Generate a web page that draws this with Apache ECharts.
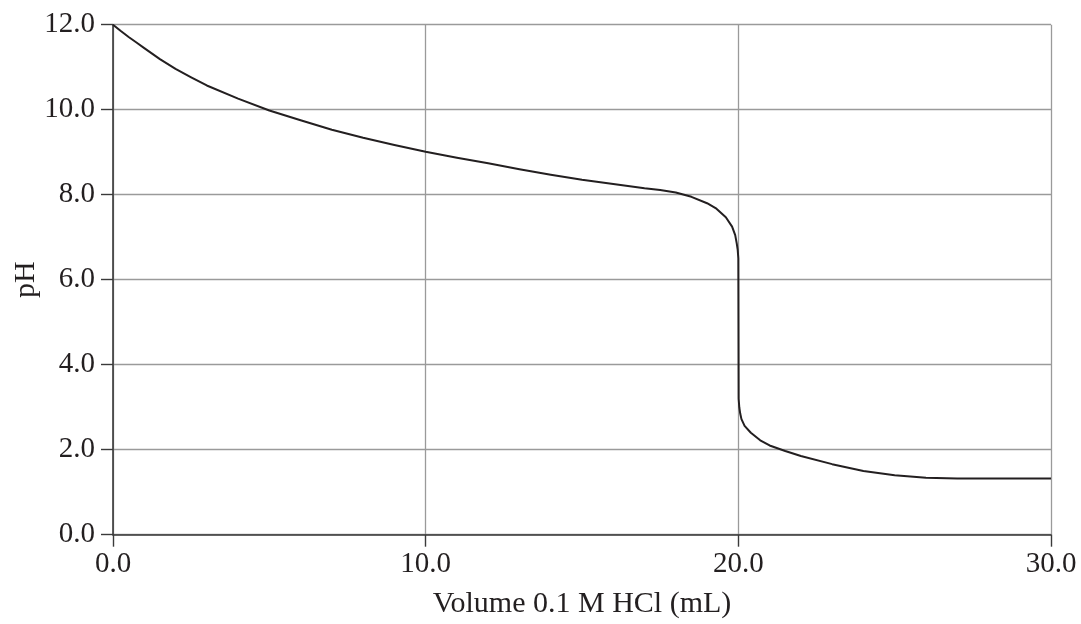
<!DOCTYPE html>
<html>
<head>
<meta charset="utf-8">
<script src="https://cdn.jsdelivr.net/npm/echarts@6/dist/echarts.min.js"></script>
<style>
html,body{margin:0;padding:0;background:#fff;}
#chart{width:1081px;height:624px;}
</style>
</head>
<body>
<div id="chart"></div>
<script>
const volumes = [0, 0.25, 0.5, 0.75, 1, 1.5, 2, 2.5, 3, 4, 5, 6, 7, 8, 9, 10, 11, 12, 13, 14, 15, 16, 17, 17.5, 18, 18.5, 19, 19.3, 19.6, 19.8, 19.9, 19.95, 19.98, 20.0, 20.01, 20.03, 20.06, 20.1, 20.2, 20.4, 20.7, 21, 21.5, 22, 23, 24, 25, 26, 27, 28, 29, 30];
const phValues = [12.0, 11.85, 11.71, 11.58, 11.45, 11.19, 10.96, 10.76, 10.57, 10.26, 9.98, 9.75, 9.53, 9.34, 9.17, 9.01, 8.87, 8.74, 8.60, 8.47, 8.35, 8.25, 8.15, 8.11, 8.05, 7.95, 7.80, 7.67, 7.47, 7.25, 7.05, 6.85, 6.7, 6.5, 3.2, 3.0, 2.85, 2.72, 2.56, 2.4, 2.22, 2.1, 1.97, 1.85, 1.66, 1.50, 1.40, 1.34, 1.32, 1.32, 1.32, 1.32];
const xTickLabels = ['0.0', '10.0', '20.0', '30.0'];
const yTickLabels = ['0.0', '2.0', '4.0', '6.0', '8.0', '10.0', '12.0'];
const xTitle = 'Volume 0.1 M HCl (mL)';
const yTitle = 'pH';

const FONT = "'Liberation Serif', 'DejaVu Serif', serif";
const TEXT = '#231f20';
const chart = echarts.init(document.getElementById('chart'), null, {renderer: 'canvas'});
chart.setOption({
  animation: false,
  backgroundColor: '#fff',
  grid: {left: 113, right: 30, top: 24.7, bottom: 89.3, containLabel: false, outerBoundsMode: 'none'},
  xAxis: {
    type: 'value', min: 0, max: 30, interval: 10,
    name: xTitle, nameLocation: 'middle', nameGap: 54, nameMoveOverlap: false,
    nameTextStyle: {fontFamily: FONT, fontSize: 30, color: TEXT},
    axisLine: {show: true, onZero: false, lineStyle: {color: '#3a3a3a', width: 1.6}},
    axisTick: {show: true, length: 12, lineStyle: {color: '#3a3a3a', width: 1.4}},
    axisLabel: {fontFamily: FONT, fontSize: 29, color: TEXT, margin: 15,
      formatter: v => xTickLabels[Math.round(v / 10)]},
    splitLine: {show: true, lineStyle: {color: '#9a9a9a', width: 1.3}}
  },
  yAxis: {
    type: 'value', min: 0, max: 12, interval: 2,
    name: yTitle, nameLocation: 'middle', nameGap: 72, nameMoveOverlap: false,
    nameTextStyle: {fontFamily: FONT, fontSize: 30, color: TEXT},
    axisLine: {show: true, onZero: false, lineStyle: {color: '#3a3a3a', width: 1.6}},
    axisTick: {show: true, length: 12, lineStyle: {color: '#3a3a3a', width: 1.4}},
    axisLabel: {fontFamily: FONT, fontSize: 29, color: TEXT, margin: 18,
      formatter: v => yTickLabels[Math.round(v / 2)]},
    splitLine: {show: true, lineStyle: {color: '#9a9a9a', width: 1.3}}
  },
  series: [{
    type: 'line',
    data: volumes.map((v, i) => [v, phValues[i]]),
    showSymbol: false,
    smooth: false,
    lineStyle: {color: '#231f20', width: 2, join: 'round'},
    clip: false
  }]
});
</script>
</body>
</html>
